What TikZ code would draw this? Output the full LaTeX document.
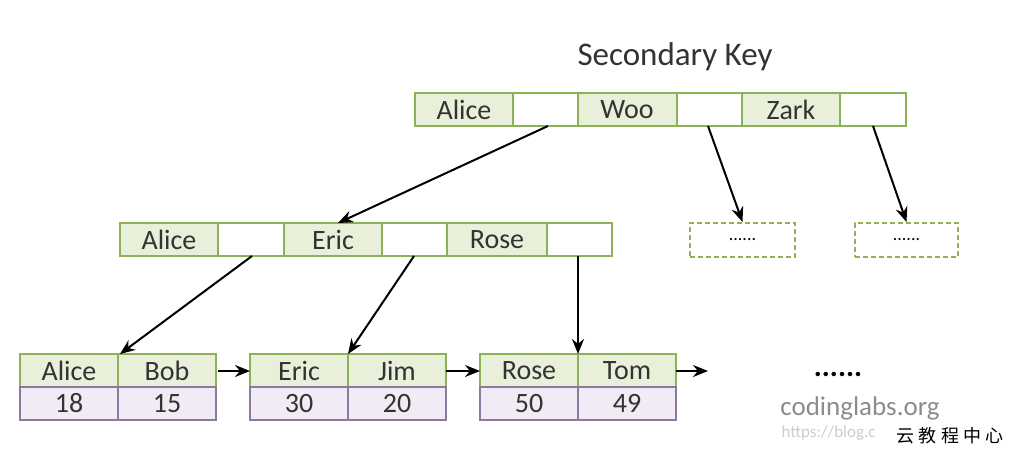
\documentclass[tikz,border=0pt]{standalone}
\usepackage{fontspec}
\setmainfont{Carlito}
\newfontfamily\cjk{Noto Sans CJK SC}
\definecolor{gfill}{HTML}{E8F0DA}
\definecolor{gline}{HTML}{8DB255}
\definecolor{pfill}{HTML}{F0EBF4}
\definecolor{pline}{HTML}{8C7A9E}
\usetikzlibrary{arrows.meta}
\begin{document}
\begin{tikzpicture}[x=1pt,y=-1pt,
  g/.style={draw=gline,fill=gfill,line width=2.2pt},
  w/.style={draw=gline,fill=white,line width=2.2pt},
  p/.style={draw=pline,fill=pfill,line width=2.2pt},
  d/.style={draw=gline,line width=2pt,dash pattern=on 5pt off 3pt},
  t/.style={font=\fontsize{28}{28}\selectfont,text=black!80},
  ar/.style={-{Stealth[length=15pt,width=12pt]},line width=2pt}]
\useasboundingbox (0,0) rectangle (1017,450);
\node[t,font=\fontsize{33}{33}\selectfont] (title) at (675,57) {Secondary Key};
% top row
\foreach \a/\b/\s/\n in {415/513/g/t1,513/578/w/t2,578/677/g/t3,677/742/w/t4,742/840/g/t5,840/906/w/t6}
  \draw[\s] (\a,93) rectangle (\b,126) coordinate (\n);
\node[t] (ta) at (464,109.5) {Alice};
\node[t] (tw) at (627,109.5) {Woo};
\node[t] (tz) at (791,109.5) {Zark};
% middle
\foreach \a/\b/\s in {120/218/g,218/284/w,284/382/g,382/447/w,447/547/g,547/612/w}
  \draw[\s] (\a,223) rectangle (\b,256);
\node[t] (ma) at (169,239.5) {Alice};
\node[t] (me) at (333,239.5) {Eric};
\node[t] (mr) at (497,239.5) {Rose};
% dashed
\node[d,minimum width=105pt,minimum height=34pt,font=\fontsize{18}{18}\selectfont] (d1) at (742.5,240) {......};
\node[d,minimum width=103pt,minimum height=34pt,font=\fontsize{18}{18}\selectfont] (d2) at (906.5,240) {......};
% bottom
\foreach \x/\k/\v/\kk/\vv in {20/Alice/18/Bob/15,250/Eric/30/Jim/20,480/Rose/50/Tom/49}{
  \draw[g] (\x,354) rectangle ++(98,33);
  \draw[g] (\x+98,354) rectangle ++(98,33);
  \draw[p] (\x,387) rectangle ++(98,33);
  \draw[p] (\x+98,387) rectangle ++(98,33);
  \node[t] at (\x+49,370.5) {\k};
  \node[t] at (\x+147,370.5) {\kk};
  \node[t] at (\x+49,403.5) {\v};
  \node[t] at (\x+147,403.5) {\vv};
}
\coordinate (a1) at (548,126); \coordinate (b1) at (338,223);
\coordinate (a2) at (708,126); \coordinate (a3) at (873,126);
\coordinate (a4) at (252,256); \coordinate (b4) at (120,354);
\coordinate (a5) at (414,256); \coordinate (b5) at (348,354);
\coordinate (a6) at (578,256); \coordinate (b6) at (578,354);
\coordinate (h1) at (218,371); \coordinate (k1) at (250,371);
\coordinate (h2) at (446,371); \coordinate (k2) at (480,371);
\coordinate (h3) at (676,371); \coordinate (k3) at (708,371);
\draw[ar] (a1) -- (b1);
\draw[ar] (a2) -- (d1.north);
\draw[ar] (a3) -- (d2.north);
\draw[ar] (a4) -- (b4);
\draw[ar] (a5) -- (b5);
\draw[ar] (a6) -- (b6);
\draw[ar] (h1) -- (k1);
\draw[ar] (h2) -- (k2);
\draw[ar] (h3) -- (k3);
\node[font=\fontsize{30}{30}\selectfont\bfseries] (dots) at (838,374) {......};
\node[font=\fontsize{27}{27}\selectfont,text=black!45] (cl) at (860,408) {codinglabs.org};
\node[font=\fontsize{17}{17}\selectfont,text=black!20,anchor=west] (url) at (778,433) {https://blog.c};
\node[font=\cjk\fontsize{18}{18}\selectfont,text=black] (cn) at (950,436) {云 教 程 中 心};
\end{tikzpicture}
\end{document}
